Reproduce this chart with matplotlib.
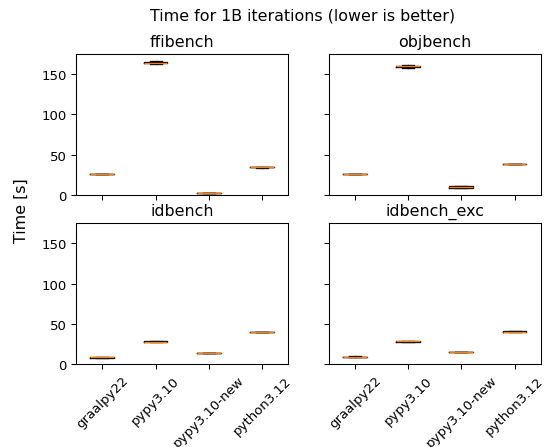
#!/usr/bin/env python3
"""Benchmark boxplots - time for 1B iterations"""
import matplotlib
matplotlib.use('Agg')
import matplotlib.pyplot as plt

interpreters = ['graalpy22', 'pypy3.10', 'pypy3.10-new', 'python3.12']
benchmarks = ['ffibench', 'objbench', 'idbench', 'idbench_exc']

# per-run times (seconds)
ffibench = [
    [25.9, 26.0, 26.1, 26.2, 26.3],
    [162.5, 163.8, 164.4, 165.0, 166.2],
    [2.3, 2.4, 2.5, 2.6, 2.7],
    [34.1, 34.2, 34.3, 34.4, 34.5],
]
objbench = [
    [25.8, 25.9, 26.0, 26.1, 26.2],
    [157.9, 159.5, 160.3, 160.8, 161.4],
    [8.6, 9.3, 9.9, 11.0, 11.8],
    [38.3, 38.35, 38.4, 38.45, 38.5],
]
idbench = [
    [7.4, 8.0, 9.0, 9.1, 9.3],
    [27.0, 27.4, 28.0, 28.1, 28.3],
    [13.8, 13.9, 14.0, 14.1, 14.2],
    [39.8, 39.9, 40.0, 40.1, 40.2],
]
idbench_exc = [
    [8.8, 9.0, 9.1, 9.4, 9.7],
    [27.4, 27.8, 28.4, 28.5, 28.6],
    [15.1, 15.2, 15.3, 15.4, 15.5],
    [40.2, 40.4, 40.5, 40.6, 40.7],
]
results = [ffibench, objbench, idbench, idbench_exc]

dpi = 95
fig, axes = plt.subplots(2, 2, figsize=(546 / dpi, 448 / dpi), dpi=dpi, sharex=True, sharey=True)
fig.subplots_adjust(left=0.139, right=0.991, top=0.877, bottom=0.185, wspace=0.19, hspace=0.2)
fig.suptitle('Time for 1B iterations (lower is better)', x=0.555, y=0.98)
fig.supylabel('Time [s]', x=0.025, y=0.53)

for ax, name, data in zip(axes.flat, benchmarks, results):
    ax.boxplot(data, showfliers=False)
    ax.set_title(name)
    ax.set_ylim(0, 175)

for ax in axes[1]:
    ax.set_xticks(range(1, len(interpreters) + 1))
    ax.set_xticklabels(interpreters, rotation=45)

plt.savefig('out.png', dpi=dpi)
